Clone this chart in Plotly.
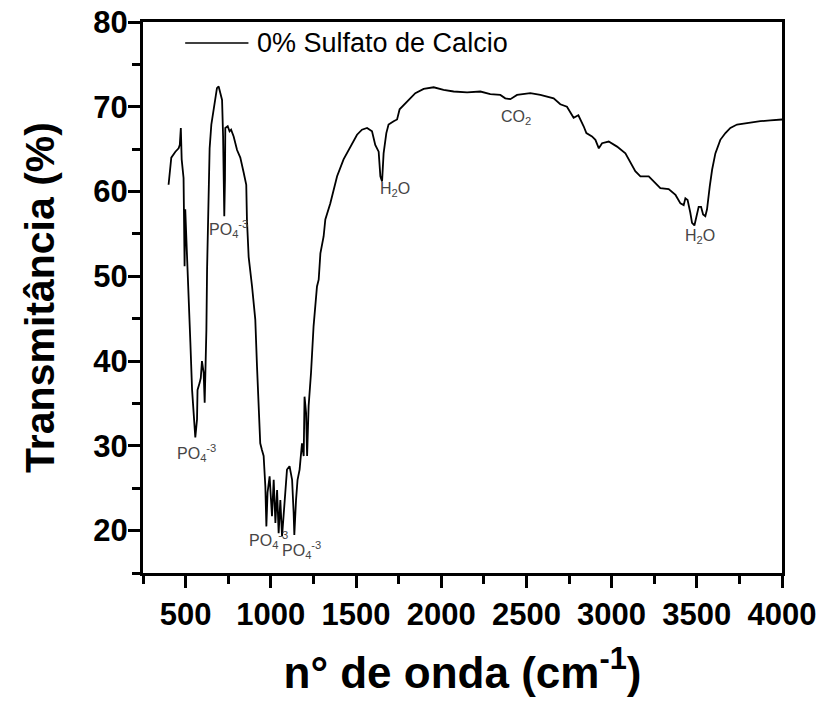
import plotly.graph_objects as go

# FTIR spectrum
wavenumber = [400, 410, 416, 440, 459, 466, 472, 477, 488, 494, 498, 507, 516, 528, 538,
              547, 554, 557, 567, 570, 582, 589, 596, 606, 612, 616, 622, 626, 630, 635,
              641, 651, 664, 674, 684, 694, 704, 714, 720, 723, 727, 731, 733, 747, 758,
              767, 782, 802, 821, 840, 856, 860, 870, 890, 909, 919, 929, 938, 948, 958,
              968, 974, 981, 993, 1007, 1017, 1027, 1037, 1046, 1056, 1066, 1079, 1095, 1110,
              1125, 1134, 1138, 1148, 1157, 1169, 1183, 1193, 1198, 1207, 1213, 1222, 1236,
              1251, 1271, 1281, 1291, 1310, 1320, 1349, 1389, 1427, 1467, 1506, 1535, 1565,
              1594, 1613, 1633, 1643, 1653, 1662, 1678, 1691, 1721, 1741, 1756, 1780, 1809,
              1848, 1897, 1956, 2014, 2073, 2152, 2230, 2288, 2347, 2376, 2406, 2445, 2523,
              2582, 2660, 2699, 2738, 2777, 2805, 2836, 2852, 2885, 2905, 2925, 2944, 2983,
              3032, 3081, 3120, 3139, 3169, 3218, 3257, 3286, 3335, 3375, 3404, 3423, 3433,
              3446, 3462, 3472, 3486, 3497, 3511, 3525, 3537, 3550, 3560, 3576, 3590, 3609,
              3638, 3668, 3697, 3736, 3795, 3873, 3931, 3990, 4000]
transmittance = [60.8, 63.4, 64.0, 64.7, 65.1, 65.5, 67.5, 63.8, 61.6, 51.2, 57.9, 53.1, 47.2, 42.2, 36.6,
                 33.9, 31.9, 31.0, 33.1, 36.6, 37.4, 38.0, 40.0, 38.6, 35.1, 38.2, 43.7, 50.8, 55.5, 60.2,
                 65.1, 67.9, 69.7, 71.2, 72.2, 72.4, 71.6, 70.8, 66.5, 61.4, 57.1, 61.4, 67.5, 67.7, 67.1,
                 67.3, 66.5, 64.9, 64.0, 62.3, 60.8, 56.7, 52.3, 48.8, 44.9, 39.4, 33.9, 30.3, 29.5, 28.8,
                 25.2, 20.5, 24.5, 26.4, 21.7, 26.0, 20.9, 24.8, 19.7, 23.6, 19.3, 23.3, 27.2, 27.6,
                 26.0, 22.1, 19.5, 23.6, 26.0, 27.2, 30.3, 28.8, 35.8, 33.9, 28.8, 34.7, 38.6,
                 44.1, 48.8, 49.6, 52.7, 54.7, 56.7, 58.6, 61.8, 63.8, 65.3, 66.7, 67.3, 67.5,
                 67.1, 65.5, 64.7, 61.8, 61.2, 64.5, 66.9, 67.9, 68.3, 68.5, 69.7, 70.2, 70.8,
                 71.6, 72.1, 72.3, 72.0, 71.8, 71.7, 71.8, 71.5, 71.4, 71.0, 70.9, 71.4, 71.6,
                 71.4, 71.0, 70.3, 70.0, 68.7, 69.0, 67.7, 66.9, 66.5, 66.1, 65.1, 65.7, 65.9,
                 65.3, 64.5, 63.2, 62.4, 61.8, 61.8, 61.0, 60.4, 60.3, 59.6, 58.6, 58.4, 59.2,
                 59.0, 57.5, 56.3, 56.0, 57.1, 58.2, 58.2, 57.3, 57.1, 57.9, 60.6, 62.6, 64.5,
                 66.1, 66.9, 67.5, 67.9, 68.1, 68.3, 68.4, 68.5, 68.5]

series_name = "0% Sulfato de Calcio"

# band labels: (text, x, y)
label_texts = ["PO<sub>4</sub><sup>-3</sup>", "PO<sub>4</sub><sup>-3</sup>",
               "PO<sub>4</sub><sup>-3</sup>", "PO<sub>4</sub><sup>-3</sup>",
               "H<sub>2</sub>O", "CO<sub>2</sub>", "H<sub>2</sub>O"]
label_x = [440, 627, 862, 1056, 1631, 2342, 3421]
label_y = [29.2, 55.6, 18.9, 17.7, 60.2, 68.7, 54.7]

x_tickvals = [500, 1000, 1500, 2000, 2500, 3000, 3500, 4000]
y_tickvals = [20, 30, 40, 50, 60, 70, 80]

FONT = "Arial, Liberation Sans, sans-serif"

fig = go.Figure()
fig.add_trace(go.Scatter(x=wavenumber, y=transmittance, mode="lines", name=series_name,
                         line=dict(color="black", width=1.8), showlegend=False))

for t, xv, yv in zip(label_texts, label_x, label_y):
    fig.add_annotation(x=xv, y=yv, text=t, showarrow=False, xanchor="left", yanchor="middle",
                       font=dict(family=FONT, size=16, color="#454545"))

# legend drawn as a line sample + text
fig.add_shape(type="line", xref="paper", yref="paper", x0=0.066, x1=0.165, y0=0.962, y1=0.962,
              line=dict(color="black", width=1.5))
fig.add_annotation(xref="paper", yref="paper", x=0.175, y=0.962, text=series_name, showarrow=False,
                   xanchor="left", yanchor="middle", font=dict(family=FONT, size=27, color="black"))

axis_common = dict(showline=True, linewidth=3, linecolor="black", mirror=True,
                   ticks="outside", ticklen=12, tickwidth=3, tickcolor="black",
                   showgrid=False, zeroline=False, automargin=False,
                   tickfont=dict(family=FONT, size=31, color="black", weight="bold"))

fig.update_xaxes(range=[250, 4000], tickvals=x_tickvals, **axis_common,
                 minor=dict(ticks="outside", ticklen=8, tickwidth=3, tickcolor="black", dtick=250, tick0=250),
                 title=dict(text="n° de onda (cm<sup>-1</sup>)", standoff=26,
                            font=dict(family=FONT, size=44, color="black", weight="bold")))
fig.update_yaxes(range=[15, 80], tickvals=y_tickvals, **axis_common,
                 ticklabelstandoff=-6,
                 minor=dict(ticks="outside", ticklen=8, tickwidth=3, tickcolor="black", dtick=5, tick0=15),
                 title=dict(text="Transmitância (%)", standoff=26,
                            font=dict(family=FONT, size=41, color="black", weight="bold")))

fig.update_layout(width=824, height=708, margin=dict(l=143, r=42, t=22, b=135),
                  plot_bgcolor="white", paper_bgcolor="white")

fig.write_html("out.html")
